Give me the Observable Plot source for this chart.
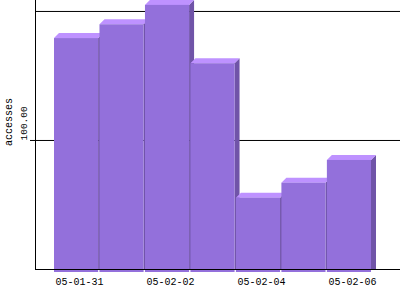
<!DOCTYPE html>
<html>
<head>
<meta charset="utf-8">
<script src="https://cdn.jsdelivr.net/npm/d3@7"></script>
<script src="https://cdn.jsdelivr.net/npm/@observablehq/plot@0.6"></script>
<style>
  html, body { margin: 0; padding: 0; background: #fff; }
</style>
</head>
<body>
<div id="chart"></div>
<script>
const dates = ["05-01-31", "05-02-01", "05-02-02", "05-02-03", "05-02-04", "05-02-05", "05-02-06"];
const accesses = [179, 189.7, 204.7, 159.5, 55.3, 66.9, 84.5];
const yTicks = [100];
const gridValues = [100, 200];
const xTickLabels = ["05-01-31", "05-02-02", "05-02-04", "05-02-06"];
const yLabel = "accesses";

const data = dates.map((d, i) => ({date: d, value: accesses[i]}));

const FRONT = "#9370DB";
const TOP = "#BE92FF";
const SIDE = "#7054A8";
const DEPTH = 5;
const FONT = "Liberation Mono, DejaVu Sans Mono, monospace";

function bars3d(index, scales, values, dims) {
  const x = scales.x, y = scales.y;
  const bw = typeof x.bandwidth === "function" ? x.bandwidth() : x.bandwidth;
  const y0 = y(0);
  const g = d3.create("svg:g");
  for (const i of index) {
    const d = data[i];
    const x0 = x(d.date), x1 = x0 + bw, yt = y(d.value);
    g.append("path")
      .attr("fill", SIDE)
      .attr("d", `M${x1},${yt}L${x1 + DEPTH},${yt - DEPTH}L${x1 + DEPTH},${y0}L${x1},${y0}Z`);
    g.append("path")
      .attr("fill", TOP)
      .attr("d", `M${x0},${yt}L${x0 + DEPTH},${yt - DEPTH}L${x1 + DEPTH},${yt - DEPTH}L${x1},${yt}Z`);
    g.append("rect")
      .attr("fill", FRONT)
      .attr("x", x0).attr("y", yt)
      .attr("width", bw).attr("height", y0 + 3 - yt);
  }
  return g.node();
}

const chart = Plot.plot({
  width: 400,
  height: 300,
  marginLeft: 35,
  marginRight: 0,
  marginTop: 0,
  marginBottom: 31,
  style: {fontFamily: FONT, background: "#fff", color: "#000"},
  x: {type: "band", domain: dates, range: [54, 371], paddingInner: 0.03, paddingOuter: 0, round: false, label: null},
  y: {domain: [0, 208.5], label: null},
  marks: [
    Plot.ruleY(gridValues, {stroke: "#000", strokeWidth: 1}),
    Plot.barY(data, {x: "date", y: "value", render: bars3d}),
    Plot.ruleY([0], {stroke: "#000", strokeWidth: 1}),
    Plot.frame({anchor: "left", stroke: "#000", strokeWidth: 1}),
    Plot.axisY({ticks: yTicks, tickSize: 5, tickFormat: () => "", label: null, stroke: "#000"}),
    Plot.text(yTicks, {y: d => d, text: d => d.toFixed(2), frameAnchor: "left", dx: -12, rotate: -90, textAnchor: "start", fontSize: 9.5, fill: "#000"}),
    Plot.text([yLabel], {frameAnchor: "left", dx: -27, dy: 11, rotate: -90, fontSize: 10, fill: "#000"}),
    Plot.axisX({ticks: xTickLabels, tickSize: 0, tickPadding: 8, dx: 3, fontSize: 10, label: null, fill: "#000"})
  ]
});

document.getElementById("chart").appendChild(chart);
</script>
</body>
</html>
